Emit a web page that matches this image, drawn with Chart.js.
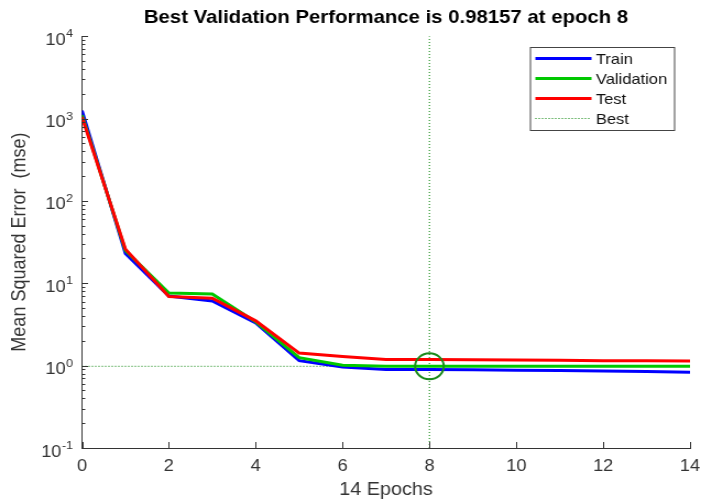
<!DOCTYPE html>
<html lang="en">
<head>
<meta charset="UTF-8">
<title>Best Validation Performance</title>
<style>
  body { margin: 0; background: #fff; }
  /* figure is drawn narrower and shown stretched, like the exported plot */
  #perf { display: block; width: 701px !important; height: 501px !important; }
</style>
</head>
<body>
<canvas id="perf" width="637" height="501"></canvas>
<script src="https://cdn.jsdelivr.net/npm/chart.js"></script>
<script>
// mse per epoch
const epochs     = [0, 1, 2, 3, 4, 5, 6, 7, 8, 9, 10, 11, 12, 13, 14];
const trainPerf  = [1250, 23, 7.0, 6.1, 3.3, 1.15, 0.96, 0.90, 0.90, 0.89, 0.88, 0.87, 0.86, 0.85, 0.83];
const valPerf    = [1100, 25, 7.6, 7.4, 3.4, 1.25, 1.01, 0.98, 0.98157, 0.98, 0.98, 0.98, 0.98, 0.98, 0.98];
const testPerf   = [1050, 26, 6.9, 6.6, 3.5, 1.42, 1.29, 1.19, 1.19, 1.18, 1.17, 1.16, 1.15, 1.15, 1.14];
const bestEpoch  = 8;
const bestPerf   = 0.98157;
const xTicks     = [0, 2, 4, 6, 8, 10, 12, 14];
const yDecades   = [-1, 0, 1, 2, 3, 4];
const legendItems = ['Train', 'Validation', 'Test', 'Best'];

const FONT = "'Liberation Sans', Arial, Helvetica, sans-serif";
const AXIS = '#333333';
const colors = { Train: '#0000ff', Validation: '#00c800', Test: '#ff0000', Best: '#008000' };

const pts = ys => epochs.map((e, i) => ({ x: e, y: ys[i] }));

// MATLAB style: ticks point into the axes, log labels as 10^n
const axisDecor = {
  id: 'axisDecor',
  afterDraw(chart) {
    const { ctx, chartArea: a, scales: { x, y } } = chart;
    ctx.save();
    ctx.strokeStyle = AXIS;
    ctx.lineWidth = 1;
    ctx.beginPath();
    xTicks.forEach(v => {
      const px = Math.round(x.getPixelForValue(v)) + 0.5;
      ctx.moveTo(px, a.bottom);
      ctx.lineTo(px, a.bottom - 6);
    });
    yDecades.forEach(e => {
      const base = Math.pow(10, e);
      const py = Math.round(y.getPixelForValue(base)) + 0.5;
      ctx.moveTo(a.left, py);
      ctx.lineTo(a.left + 5.5, py);
      if (e < yDecades[yDecades.length - 1]) {
        for (let m = 2; m <= 9; m++) {
          const my = Math.round(y.getPixelForValue(base * m)) + 0.5;
          ctx.moveTo(a.left, my);
          ctx.lineTo(a.left + 3, my);
        }
      }
    });
    ctx.stroke();

    // decade labels
    ctx.fillStyle = AXIS;
    ctx.textBaseline = 'middle';
    ctx.textAlign = 'right';
    const right = 66.5;
    yDecades.forEach(e => {
      const py = y.getPixelForValue(Math.pow(10, e));
      const exp = String(e);
      ctx.font = '11.5px ' + FONT;
      const ew = ctx.measureText(exp).width;
      ctx.fillText(exp, right, py - 2);
      ctx.font = '16.5px ' + FONT;
      ctx.fillText('10', right - ew - 0.5, py + 4);
    });
    ctx.restore();
  }
};

// legend box in the upper right of the axes
const boxLegend = {
  id: 'boxLegend',
  afterDraw(chart) {
    const { ctx } = chart;
    const bx = 481.5, by = 47, bw = 131, bh = 83;
    ctx.save();
    ctx.fillStyle = '#fff';
    ctx.fillRect(bx, by, bw, bh);
    ctx.strokeStyle = '#444';
    ctx.lineWidth = 1;
    ctx.strokeRect(bx + 0.5, by + 0.5, bw, bh);
    ctx.font = '15px ' + FONT;
    ctx.textBaseline = 'middle';
    ctx.textAlign = 'left';
    legendItems.forEach((name, i) => {
      const ly = by + 11.5 + i * 20;
      ctx.beginPath();
      ctx.strokeStyle = colors[name];
      if (name === 'Best') {
        ctx.lineWidth = 1;
        ctx.setLineDash([1, 2]);
      } else {
        ctx.lineWidth = 3;
        ctx.setLineDash([]);
      }
      ctx.moveTo(bx + 5, ly);
      ctx.lineTo(bx + 56, ly);
      ctx.stroke();
      ctx.fillStyle = '#111';
      ctx.fillText(name, bx + 60, ly + 1);
    });
    ctx.restore();
  }
};

const lineSet = (label, ys, order) => ({
  label, data: pts(ys), order,
  borderColor: colors[label], borderWidth: 3,
  pointRadius: 0, fill: false, tension: 0
});

new Chart(document.getElementById('perf'), {
  type: 'line',
  data: {
    datasets: [
      lineSet('Test', testPerf, 1),
      lineSet('Validation', valPerf, 2),
      lineSet('Train', trainPerf, 3),
      {
        label: 'Best', order: 4,
        data: [{ x: bestEpoch, y: 0.1 }, { x: bestEpoch, y: 10000 }],
        borderColor: colors.Best, borderWidth: 1, borderDash: [1, 2],
        pointRadius: 0, fill: false
      },
      {
        label: 'Best level', order: 4,
        data: [{ x: 0, y: bestPerf }, { x: bestEpoch, y: bestPerf }],
        borderColor: colors.Best, borderWidth: 1, borderDash: [1, 2],
        pointRadius: 0, fill: false
      },
      {
        label: 'Best point', order: 0, type: 'scatter',
        data: [{ x: bestEpoch, y: bestPerf }],
        pointRadius: 13, pointBorderWidth: 2,
        pointBorderColor: '#1a8a1a', pointBackgroundColor: 'rgba(0,0,0,0)',
        showLine: false
      }
    ]
  },
  options: {
    responsive: false,
    animation: false,
    events: [],
    // the big best-epoch marker must not push the axes inward
    layout: { autoPadding: false, padding: { left: 0, right: 10, top: 0, bottom: 0 } },
    plugins: {
      legend: { display: false },
      tooltip: { enabled: false },
      title: {
        display: true,
        fullSize: false,
        text: 'Best Validation Performance is ' + bestPerf + ' at epoch ' + bestEpoch,
        color: '#000',
        font: { family: FONT, size: 18.5, weight: 'bold' },
        padding: { top: 7, bottom: 7 }
      }
    },
    scales: {
      x: {
        type: 'linear', min: 0, max: 14,
        afterBuildTicks: s => { s.ticks = xTicks.map(v => ({ value: v })); },
        afterFit: s => { s.height = 53; s.paddingLeft = 0; s.paddingRight = 0; },
        grid: { display: false, drawTicks: false },
        border: { display: true, color: AXIS, width: 1 },
        ticks: { color: AXIS, padding: 9, font: { family: FONT, size: 16.5 } },
        title: {
          display: true, text: '14 Epochs', color: AXIS,
          font: { family: FONT, size: 18 }, padding: { top: 0, bottom: 0 }
        }
      },
      y: {
        type: 'logarithmic', min: 0.1, max: 10000,
        afterFit: s => { s.width = 74.5; s.paddingTop = 0; s.paddingBottom = 0; },
        grid: { display: false, drawTicks: false },
        border: { display: true, color: AXIS, width: 1 },
        ticks: { display: false },
        title: {
          display: true, text: 'Mean Squared Error  (mse)', color: AXIS,
          font: { family: FONT, size: 18 }, padding: { top: 7, bottom: 0 }
        }
      }
    }
  },
  plugins: [axisDecor, boxLegend]
});
</script>
</body>
</html>
